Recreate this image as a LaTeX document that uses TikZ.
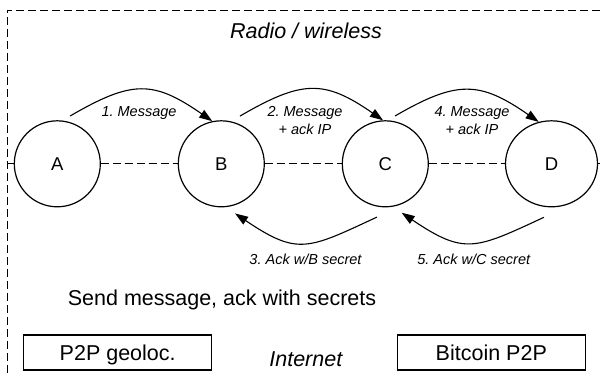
\documentclass[tikz,border=0pt]{standalone}
\usepackage{fontspec}
\setmainfont{Liberation Sans}
\usetikzlibrary{arrows.meta, shapes.geometric}
\frenchspacing

\begin{document}
\begin{tikzpicture}[x=1pt, y=-1pt,
	peer/.style={draw, ellipse, line width=1.2pt, minimum width=86pt, minimum height=86pt, inner sep=0pt, font=\fontsize{18.5}{22}\selectfont},
	msg/.style={line width=1.1pt, -{Triangle[length=13pt, width=9pt]}},
	note/.style={font=\fontsize{14.5}{18}\selectfont\itshape, align=center},
	link/.style={dash pattern=on 8pt off 4pt, line width=0.9pt},
	netbox/.style={draw, line width=1.2pt, minimum width=188pt, minimum height=35pt, inner sep=0pt, text height=15.5pt, text depth=0pt, font=\fontsize{21.5}{26}\selectfont}]
	\useasboundingbox (0, 0) rectangle (600, 376);

	\node[peer] (A) at (57.3, 163.8) {A};
	\node[peer] (B) at (221.3, 163.8) {B};
	\node[peer] (C) at (385.3, 163.8) {C};
	\node[peer, minimum width=92pt] (D) at (551.5, 163.8) {D};

	\coordinate (corner) at (7, 10);
	\coordinate (west) at (7, 163.8);
	\coordinate (east) at (600, 163.8);
	\draw [link] (600, 10) -- (corner) -- (7, 376);

	\draw [link] (west) -- (A);
	\draw [link] (A) -- (B);
	\draw [link] (B) -- (C);
	\draw [link] (C) -- (D);
	\draw [link] (D) -- (east);

	\node[anchor=base, font=\fontsize{21.5}{26}\selectfont\itshape] (radio) at (306, 38.5) {Radio / wireless};

	\draw [msg] ([shift={(75:49.5pt)}]A.center) .. controls +(62, -36) and +(-59, -41) .. (B.102);
	\draw [msg] ([shift={(68.6:51.3pt)}]B.center) .. controls +(62, -36) and +(-59, -41) .. (C.93);
	\draw [msg] ([shift={(78.5:48.8pt)}]C.center) .. controls +(62, -36) and +(-59, -41) .. (D.107);
	\draw [msg] ([shift={(-99:54pt)}]C.center) .. controls +(-69, 32) and +(63, 42.5) .. ([shift={(-74.5:51.5pt)}]B.center);
	\draw [msg] ([shift={(-98:54pt)}]D.center) .. controls +(-69, 32) and +(63, 42.5) .. ([shift={(-71.5:51.6pt)}]C.center);

	\node[note, anchor=base] (msg1) at (139, 116.7) {1. Message};
	\node[note] (msg2) at (305, 120.5) {2. Message\\+ ack IP};
	\node[note] (msg4) at (472, 120.5) {4. Message\\+ ack IP};
	\node[note, anchor=base] (ack3) at (305.5, 264) {3. Ack w/B secret};
	\node[note, anchor=base] (ack5) at (473.7, 264) {5. Ack w/C secret};

	\node[anchor=base, font=\fontsize{21.5}{26}\selectfont] (summary) at (222, 305) {Send message, ack with secrets};

	\node[netbox] (geo) at (117.7, 352.5) {P2P geoloc.};
	\node[netbox] (btc) at (491.3, 352.5) {Bitcoin P2P};
	\node[anchor=base, font=\fontsize{21.5}{26}\selectfont\itshape] (inet) at (305.8, 366) {Internet};
\end{tikzpicture}
\end{document}
